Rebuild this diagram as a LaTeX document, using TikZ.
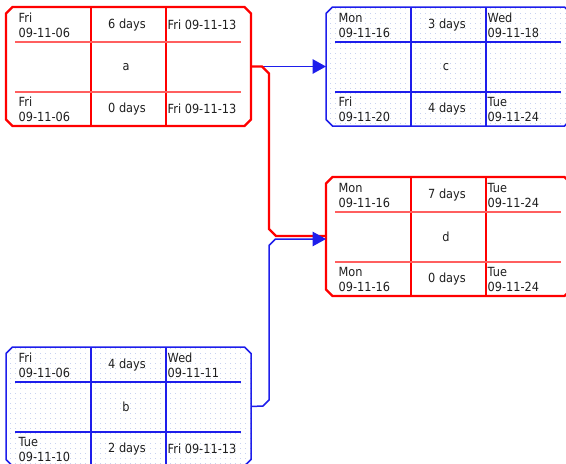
\documentclass[tikz,border=0pt]{standalone}
\usepackage{fontspec}
\setmainfont[FakeStretch=0.9]{DejaVu Sans}
\usetikzlibrary{arrows.meta,calc,patterns}

% sparse dot grid used as the background of non-critical tasks
\pgfdeclarepatternformonly{griddots}{\pgfpointorigin}{\pgfpoint{1pt}{1pt}}{\pgfpoint{5pt}{5pt}}%
  {\pgfpathrectangle{\pgfpointorigin}{\pgfpoint{1pt}{1pt}}\pgfusepath{fill}}

\definecolor{critred}{RGB}{255,0,0}
\definecolor{critredlt}{RGB}{255,95,95}
\definecolor{normblue}{RGB}{30,30,235}
\definecolor{dotblue}{RGB}{200,210,240}
\definecolor{txt}{RGB}{30,30,30}

\tikzset{
  boxcore/.style={rectangle,minimum width=245pt,minimum height=119pt,inner sep=0pt,outer sep=0pt},
  critborder/.style={draw=critred,line width=2.4pt,line join=miter},
  critvert/.style={draw=critred,line width=1.5pt},
  crithoriz/.style={draw=critredlt,line width=1.5pt},
  normborder/.style={draw=normblue,line width=1.5pt,pattern=griddots,pattern color=dotblue},
  normvert/.style={draw=normblue,line width=1.5pt},
  normhoriz/.style={draw=normblue,line width=1.5pt},
  celltext/.style={inner sep=0pt,text=txt,font=\fontsize{12.6}{15}\selectfont},
  leftcell/.style={celltext,anchor=west,align=left},
  midcell/.style={celltext,anchor=center,align=center},
  critlink/.style={draw=critred,line width=2.4pt},
  normlink/.style={draw=normblue,line width=1.5pt},
  linkhead/.style={-{Triangle[length=13.5pt,width=14.5pt]}},
}

% task box: name, centre, border style, vertical rule style, horizontal rule style
\newcommand\taskbox[5]{%
  \node[boxcore] (#1) at (#2) {};
  \path[#3] ($(#1.north west)+(6.5,0)$) -- ($(#1.north east)+(-6.5,0)$)
    -- ($(#1.north east)+(0,6.5)$) -- ($(#1.south east)+(0,-6.5)$)
    -- ($(#1.south east)+(-6.5,0)$) -- ($(#1.south west)+(6.5,0)$)
    -- ($(#1.south west)+(0,-6.5)$) -- ($(#1.north west)+(0,6.5)$) -- cycle;
  \path[#4] ($(#1.north west)+(85,0)$) -- ($(#1.south west)+(85,0)$);
  \path[#4] ($(#1.north west)+(160,0)$) -- ($(#1.south west)+(160,0)$);
  \path[#5] ($(#1.north west)+(9,35)$) -- ($(#1.north west)+(235,35)$);
  \path[#5] ($(#1.north west)+(9,85)$) -- ($(#1.north west)+(235,85)$);
}

% cell texts: name, early start, duration, early finish, label, late start, slack, late finish
\newcommand\taskcells[8]{%
  \node[leftcell] (#1-es) at ($(#1.north west)+(12.5,18)$) {#2};
  \node[midcell]  (#1-du) at ($(#1.north west)+(121,18.5)$) {#3};
  \node[leftcell] (#1-ef) at ($(#1.north west)+(161.5,18)$) {#4};
  \node[midcell]  (#1-id) at ($(#1.north west)+(120,60)$) {#5};
  \node[leftcell] (#1-ls) at ($(#1.north west)+(12.5,102)$) {#6};
  \node[midcell]  (#1-sl) at ($(#1.north west)+(121,102)$) {#7};
  \node[leftcell] (#1-lf) at ($(#1.north west)+(161.5,102)$) {#8};
}

\begin{document}
\begin{tikzpicture}[x=1pt,y=-1pt]
\useasboundingbox (0,0) rectangle (566,464);

% tasks
\taskbox{a}{128.5,66.5}{critborder}{critvert}{crithoriz}
\taskcells{a}{Fri\\09-11-06}{6 days}{Fri 09-11-13}{a}{Fri\\09-11-06}{0 days}{Fri 09-11-13}

\taskbox{c}{448.5,66.5}{normborder}{normvert}{normhoriz}
\taskcells{c}{Mon\\09-11-16}{3 days}{Wed\\09-11-18}{c}{Fri\\09-11-20}{4 days}{Tue\\09-11-24}

\taskbox{d}{448.5,236.5}{critborder}{critvert}{crithoriz}
\taskcells{d}{Mon\\09-11-16}{7 days}{Tue\\09-11-24}{d}{Mon\\09-11-16}{0 days}{Tue\\09-11-24}

\taskbox{b}{128.5,406.5}{normborder}{normvert}{normhoriz}
\taskcells{b}{Fri\\09-11-06}{4 days}{Wed\\09-11-11}{b}{Tue\\09-11-10}{2 days}{Fri 09-11-13}

% elbow points of the links
\coordinate (ab1) at (262,66.5);
\coordinate (ab2) at (269,73.5);
\coordinate (ab3) at (269,229);
\coordinate (ab4) at (276,236);
\coordinate (aend) at ($(d.west)+(0,-0.5)$);
\coordinate (bd1) at (263,406);
\coordinate (bd2) at (269,400);
\coordinate (bd3) at (269,245.5);
\coordinate (bd4) at (275.5,239);
\coordinate (dend) at ($(d.west)+(0,2.5)$);

% links
\draw[normlink,linkhead,normblue] (ab1) -- (c.west);
\draw[critlink] (a.east) -- (ab1) -- (ab2) -- (ab3) -- (ab4) -- (aend);
\draw[normlink,linkhead,normblue] (b.east) -- (bd1) -- (bd2) -- (bd3) -- (bd4) -- (dend);
\end{tikzpicture}
\end{document}
